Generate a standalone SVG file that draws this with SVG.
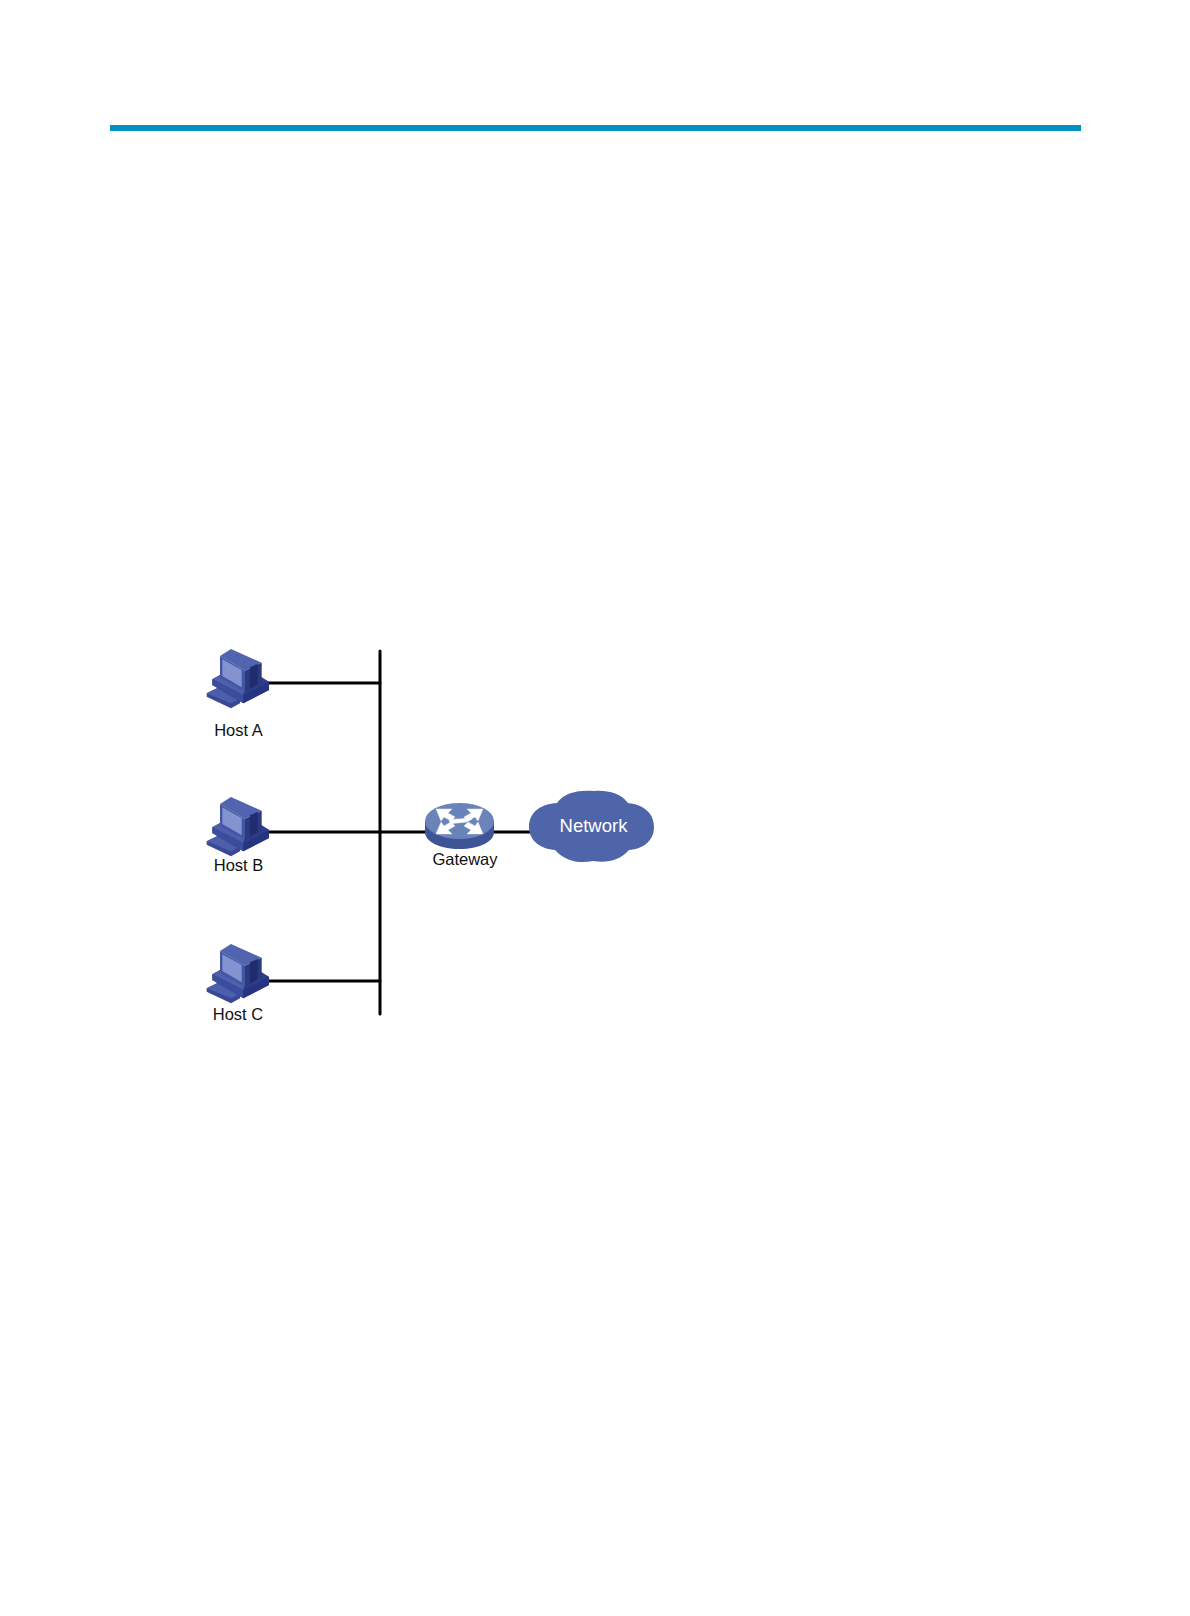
<svg xmlns="http://www.w3.org/2000/svg" width="1190" height="1616" viewBox="0 0 1190 1616">
<style>
text{font-family:"Liberation Sans",Arial,sans-serif;font-size:16.500px;fill:#111;text-anchor:middle}
.wire{stroke:#000;stroke-width:3;fill:none;stroke-linecap:round}
.arrow{fill:#fff;stroke:#e4eaf6;stroke-width:.5}
</style>
<defs>
<g id="pc">
<polygon points="35,160 75,140 135,176 135,190 108,205 35,170" fill="#3a4894"/>
<polygon points="35,160 75,140 135,176 108,190" fill="#4c5fac"/>
<polygon points="52,118 75,105 198,110 222,125 222,150 145,190 52,135" fill="#2f3d8f"/>
<polygon points="52,118 75,105 147,150 145,165" fill="#4c60ac"/>
<polygon points="52,118 145,165 145,190 52,135" fill="#3c4c9e"/>
<polygon points="145,165 222,125 222,150 145,190" fill="#27347f"/>
<polygon points="75,48 108,27 200,68 150,92" fill="#5064b0"/>
<polygon points="75,48 150,92 150,155 75,113" fill="#4355a3"/>
<polygon points="150,92 200,68 200,130 150,155" fill="#2b397f"/>
<polygon points="165,82 188,72 188,132 165,145" fill="#1f2c70"/>
<polygon points="82,58 140,90 140,142 82,108" fill="#8393d0"/>
</g>
</defs>
<rect width="1190" height="1616" fill="#fff"/>
<rect x="110" y="125" width="971" height="6" fill="#0090c4"/>
<g id="connectors">
<path class="wire" d="M380 651V1014"/>
<path class="wire" d="M268 683H380"/>
<path class="wire" d="M268 832H426"/>
<path class="wire" d="M268 981H380"/>
<path class="wire" d="M492 832H530"/>
</g>
<g id="host-a"><use href="#pc" transform="translate(195 640) scale(.3333)"/><text x="238.500" y="736">Host A</text></g>
<g id="host-b"><use href="#pc" transform="translate(195 788) scale(.3333)"/><text x="238.500" y="871">Host B</text></g>
<g id="host-c"><use href="#pc" transform="translate(195 935) scale(.3333)"/><text x="238" y="1020">Host C</text></g>
<g id="gateway">
<path d="M425 821V832C425 842 440 849 459.500 849S494 842 494 832V821Z" fill="#3f5397"/>
<ellipse cx="459.500" cy="821" rx="34.500" ry="18" fill="#6a83bb"/>
<g class="arrow">
<polygon points="436,809 452,809 448,813 455,817 451,821 444,817 441,821"/>
<polygon points="483,809 467,809 471,813 464,817 468,821 475,817 478,821"/>
<polygon points="436,834 452,834 448,830 455,826 451,822 444,826 441,822"/>
<polygon points="483,834 467,834 471,830 464,826 468,822 475,826 478,822"/>
<path d="M449 821C454 817 464 821 470 816L472 819C465 825 455 821 451 825Z"/>
</g>
<text x="465" y="865">Gateway</text>
</g>
<g id="network">
<path d="M529 827C529 812 541 804 557 803C565 792 579 790 594 791C607 790 621 793 628 803C645 805 654 814 654 827C654 841 643 849 629 850C619 861 607 863 593 861C579 864 565 861 555 850C541 849 529 841 529 827Z" fill="#4f65a9"/>
<text x="593.500" y="832" style="fill:#fff;font-size:18.500px">Network</text>
</g>
</svg>
